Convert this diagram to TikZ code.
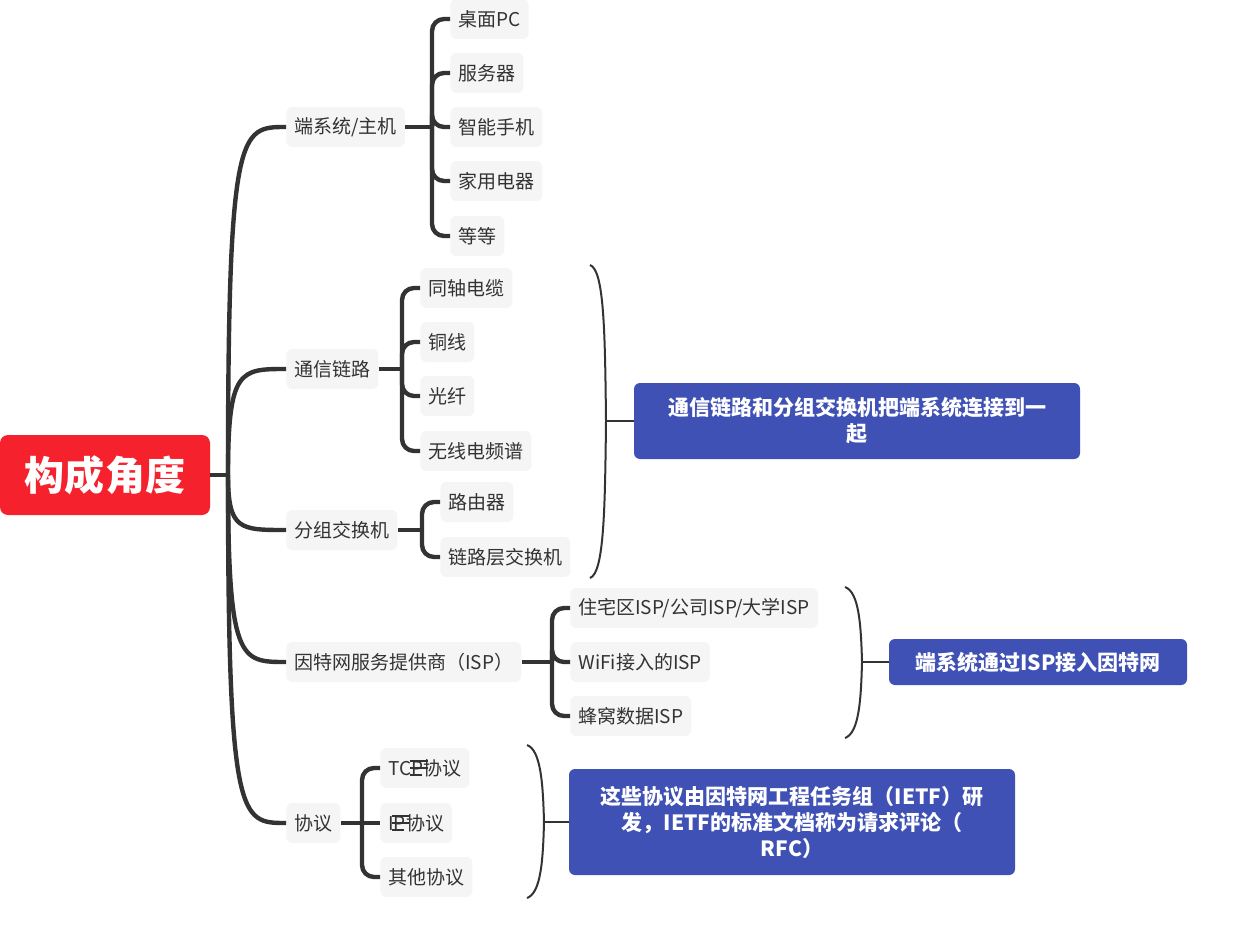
\documentclass[tikz,border=0pt]{standalone}
\usepackage{fontspec}
\setmainfont{Noto Sans CJK SC}
\usetikzlibrary{positioning}
\definecolor{rootred}{HTML}{F5222D}
\definecolor{boxgray}{HTML}{F5F5F5}
\definecolor{notebl}{HTML}{4051B5}
\definecolor{linec}{HTML}{333333}
\tikzset{
  topic/.style={fill=boxgray, rounded corners=3pt, anchor=west, inner sep=4pt, minimum height=20, font=\fontsize{9.5}{12}\selectfont, text=linec},
  note/.style={fill=notebl, rounded corners=3pt, text=white, font=\bfseries\fontsize{10.5}{13}\selectfont, align=center},
  conn/.style={linec, line width=2.2pt, rounded corners=6},
  brace/.style={linec, line width=1pt}
}
\begin{document}
\begin{tikzpicture}[x=0.5pt, y=-0.5pt]

% Set the size of the figure
\useasboundingbox (0,0) rectangle (1240,930);

% root
\node[fill=rootred, rounded corners=4pt, text=white, font=\bfseries\fontsize{20}{24}\selectfont, minimum width=105pt, minimum height=40pt] (root) at (105,475) {构成角度};
\coordinate (hub) at (228,475);
\draw[conn] (root.east) -- (hub);

% main topics
\node[topic] (host) at (286,127) {端系统/主机};
\node[topic] (link) at (286,369) {通信链路};
\node[topic] (switch) at (286,530) {分组交换机};
\node[topic] (isp) at (286,662) {因特网服务提供商（ISP）};
\node[topic] (proto) at (286,823) {协议};
\foreach \t in {host,link,switch,isp,proto}
  \draw[conn, rounded corners=0] (hub) .. controls (hub |- \t.west) and (240,0 |- \t.west) .. (\t.west);

% end systems
\node[topic] (pc) at (450,19) {桌面PC};
\node[topic] (server) at (450,73) {服务器};
\node[topic] (phone) at (450,127) {智能手机};
\node[topic] (appl) at (450,181) {家用电器};
\node[topic] (etc) at (450,236) {等等};
\coordinate (bhost) at (432,127);
\draw[conn] (host.east) -- (bhost);
\foreach \c in {pc,server,phone,appl,etc} \draw[conn] (bhost) |- (\c.west);

% links
\node[topic] (coax) at (420,288) {同轴电缆};
\node[topic] (copper) at (420,342) {铜线};
\node[topic] (fiber) at (420,396) {光纤};
\node[topic] (radio) at (420,451) {无线电频谱};
\coordinate (blink) at (402,369);
\draw[conn] (link.east) -- (blink);
\foreach \c in {coax,copper,fiber,radio} \draw[conn] (blink) |- (\c.west);

% packet switches
\node[topic] (router) at (440,502) {路由器};
\node[topic] (l2sw) at (440,557) {链路层交换机};
\coordinate (bswitch) at (422,530);
\draw[conn] (switch.east) -- (bswitch);
\foreach \c in {router,l2sw} \draw[conn] (bswitch) |- (\c.west);

% ISPs
\node[topic] (res) at (570,608) {住宅区ISP/公司ISP/大学ISP};
\node[topic] (wifi) at (570,662) {WiFi接入的ISP};
\node[topic] (cell) at (570,716) {蜂窝数据ISP};
\coordinate (bisp) at (552,662);
\draw[conn] (isp.east) -- (bisp);
\foreach \c in {res,wifi,cell} \draw[conn] (bisp) |- (\c.west);

% protocols
\node[topic] (tcp) at (380,768) {TCP协议\hspace{22pt}};
\node[topic] (ip) at (380,823) {IP协议\hspace{22pt}};
\node[topic] (other) at (380,877) {其他协议};
\coordinate (bproto) at (362,823);
\draw[conn] (proto.east) -- (bproto);
\foreach \c in {tcp,other} \draw[conn] (bproto) |- (\c.west);
\draw[conn] (bproto) -- (ip.west);
\foreach \n in {tcp,ip} {
  \draw[linec, line width=1pt] ([xshift=-30]\n.east) ++(0,-7) -- ++(18,0) ++(-18,7) -- ++(18,0) ++(-18,7) -- ++(12,0);
}

% summaries
\draw[brace] (590,265) .. controls (604,270) and (605,330) .. (606,421) .. controls (605,510) and (604,573) .. (590,578);
\coordinate (t1) at (606,421);
\node[note, minimum width=223pt, minimum height=38pt] (n1) at (857,421) {通信链路和分组交换机把端系统连接到一\\起};
\draw[brace] (t1) -- (n1.west);

\draw[brace] (845,587) .. controls (859,592) and (861,625) .. (862,662) .. controls (861,700) and (859,733) .. (845,738);
\coordinate (t2) at (862,662);
\node[note, minimum width=149pt, minimum height=23pt] (n2) at (1038,662) {端系统通过ISP接入因特网};
\draw[brace] (t2) -- (n2.west);

\draw[brace] (527,745) .. controls (541,750) and (543,785) .. (544,822) .. controls (543,860) and (541,893) .. (527,898);
\coordinate (t3) at (544,822);
\node[note, minimum width=223pt, minimum height=53pt] (n3) at (792,822) {这些协议由因特网工程任务组（IETF）研\\发，IETF的标准文档称为请求评论（\\RFC）};
\draw[brace] (t3) -- (n3.west);
\end{tikzpicture}
\end{document}
